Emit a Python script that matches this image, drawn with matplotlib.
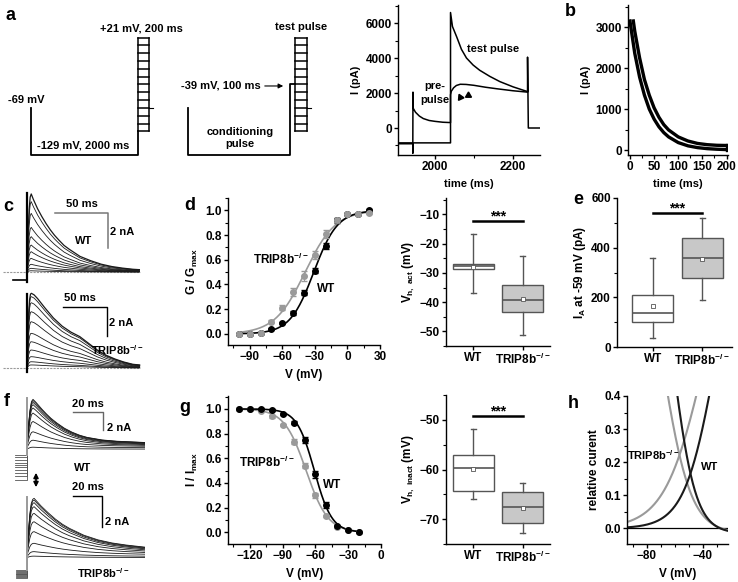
import numpy as np
import matplotlib
matplotlib.use("Agg")
import matplotlib.pyplot as plt
from matplotlib.ticker import MultipleLocator
from matplotlib.patches import FancyArrowPatch

# ======================================================
# DATA
# ======================================================
# --- a: protocol levels (mV) ---
hold_mv, hyp_mv, precond_mv = -69, -129, -39
step_levels = np.arange(-99, 22, 10)

# --- a: example current traces (ms, pA) ---
a_t_pre = [1905, 1943, 1943, 1943.5, 1944, 1950, 1960, 1970, 1985, 2000, 2020, 2040,
           2040, 2045, 2056, 2068, 2081, 2098, 2115, 2141, 2167, 2201, 2238, 2238, 2240, 2270]
a_i_pre = [-900, -900, -1450, 2050, 1130, 900, 680, 540, 430, 380, 330, 310,
           6600, 5800, 5200, 4500, 4000, 3600, 3300, 2950, 2650, 2350, 2080, 4050, 0, 0]
a_t_nopre = [1905, 2040, 2040, 2042, 2048, 2055, 2065, 2080, 2100, 2130, 2160, 2200, 2238]
a_i_nopre = [-850, -850, 1900, 2100, 2300, 2430, 2500, 2490, 2440, 2330, 2240, 2130, 2050]

# --- b: decay curves (ms, pA) ---
b_t1 = [0, 10, 20, 30, 40, 50, 60, 70, 80, 100, 120, 140, 160, 180, 200]
b_i1 = [3150, 2360, 1780, 1340, 1000, 755, 567, 426, 320, 181, 102, 58, 33, 19, 10]
b_t2 = [7, 10, 20, 30, 40, 50, 60, 70, 80, 100, 120, 140, 160, 180, 200]
b_i2 = [3150, 2900, 2250, 1720, 1340, 1030, 800, 620, 490, 320, 220, 160, 130, 115, 110]

# --- c: activation traces (ms, nA) ---
c_wt_t = [0, 1, 2, 3, 4, 6, 8, 10, 14, 18, 22, 26, 30, 35, 40, 50, 60, 70, 80, 90, 100, 106]
c_wt_shape = [0, 0.45, 0.8, 0.96, 1.0, 0.93, 0.87, 0.81, 0.71, 0.62, 0.54, 0.47, 0.41,
              0.34, 0.29, 0.2, 0.145, 0.1, 0.07, 0.05, 0.035, 0.03]
c_wt_peaks = [4.46, 4.02, 3.35, 2.55, 2.02, 1.54, 1.16, 0.78, 0.44, 0.21, 0.07]
c_tr_t = [0, 1, 2, 3, 4, 5, 8, 12, 16, 20, 25, 30, 40, 50, 60, 70, 80, 90, 100, 110, 120, 128]
c_tr_shape = [0, 0.4, 0.75, 0.92, 0.99, 1.0, 0.98, 0.93, 0.87, 0.81, 0.74, 0.67, 0.56,
              0.48, 0.42, 0.33, 0.24, 0.17, 0.12, 0.08, 0.05, 0.04]
c_tr_peaks = [5.15, 4.92, 4.5, 3.88, 3.19, 2.39, 1.81, 1.24, 0.78, 0.43, 0.21]

# --- d: activation G/Gmax ---
d_v = [-100, -90, -80, -70, -60, -50, -40, -30, -20, -10, 0, 10, 20]
d_wt = [0.0, 0.0, 0.005, 0.04, 0.09, 0.17, 0.335, 0.51, 0.71, 0.92, 0.97, 0.97, 1.0]
d_wt_err = [0.005, 0.005, 0.005, 0.01, 0.01, 0.015, 0.02, 0.02, 0.025, 0.02, 0.01, 0.01, 0.01]
d_tr = [0.0, 0.0, 0.005, 0.1, 0.21, 0.34, 0.47, 0.64, 0.81, 0.92, 0.97, 0.97, 0.98]
d_tr_err = [0.005, 0.005, 0.005, 0.01, 0.02, 0.03, 0.04, 0.035, 0.03, 0.02, 0.01, 0.01, 0.01]
act_wt_v50, act_wt_k = -31.0, 11.0
act_tr_v50, act_tr_k = -39.0, 14.0

# --- d / e / g: box statistics [min, q1, median, q3, max], means ---
vact_wt, vact_wt_mean = [-36.9, -28.7, -27.7, -26.9, -16.8], -27.9
vact_tr, vact_tr_mean = [-51.4, -43.3, -39.4, -34.2, -24.1], -38.8
ia_wt, ia_wt_mean = [36, 102, 138, 209, 360], 166
ia_tr, ia_tr_mean = [189, 276, 358, 438, 518], 356
vin_wt, vin_wt_mean = [-66.0, -64.3, -59.7, -57.0, -51.9], -59.9
vin_tr, vin_tr_mean = [-72.8, -70.7, -67.5, -64.5, -62.8], -67.7
groups = ["WT", "TRIP8b$^{-/-}$"]

# --- f: inactivation traces (ms, nA) ---
f_wt_t = [0, 1, 2, 3, 4, 6, 8, 10, 13, 16, 20, 25, 30, 35, 40, 50, 60, 70, 79]
f_wt_shape = [0, 0.4, 0.75, 0.95, 1.0, 0.93, 0.85, 0.77, 0.66, 0.56, 0.45, 0.33, 0.24,
              0.17, 0.12, 0.06, 0.03, 0.015, 0]
f_wt_peaks = [5.42, 5.3, 5.1, 4.85, 4.5, 3.95, 3.05, 1.95, 1.05, 0.3]
f_wt_sus = [0.8, 0.78, 0.75, 0.7, 0.65, 0.58, 0.5, 0.4, 0.25, 0.1]
f_wt_pre = [-3.2, -2.8, -2.5, -2.15, -1.85, -1.6, -1.35, -1.1, -0.8, -0.5]
f_tr_t = [0, 1, 2, 3, 4, 5, 7, 10, 15, 20, 25, 30, 40, 50, 60, 70, 83]
f_tr_shape = [0, 0.35, 0.7, 0.9, 0.98, 1.0, 0.94, 0.85, 0.72, 0.6, 0.5, 0.42, 0.29,
              0.2, 0.14, 0.1, 0.06]
f_tr_peaks = [3.85, 3.74, 3.57, 3.31, 2.88, 2.34, 1.7, 0.95, 0.41, 0.12]
f_tr_sus = [0.5, 0.48, 0.45, 0.42, 0.38, 0.33, 0.27, 0.2, 0.1, 0.03]
f_tr_pre = [-1.3, -1.24, -1.18, -1.12, -1.06, -1.0, -0.94, -0.88, -0.82, -0.77]

# --- g: inactivation I/Imax ---
g_v = [-130, -120, -110, -100, -90, -80, -70, -60, -50, -40, -30, -20]
g_wt = [1.0, 1.0, 1.0, 0.99, 0.957, 0.89, 0.75, 0.47, 0.22, 0.05, 0.02, 0.0]
g_wt_err = [0.005, 0.005, 0.005, 0.01, 0.01, 0.015, 0.025, 0.03, 0.025, 0.01, 0.005, 0.005]
g_tr = [1.0, 1.0, 0.985, 0.94, 0.87, 0.735, 0.54, 0.30, 0.13, 0.045, 0.02, 0.0]
g_tr_err = [0.005, 0.005, 0.005, 0.01, 0.01, 0.02, 0.02, 0.02, 0.01, 0.01, 0.005, 0.005]
inact_wt_v50, inact_wt_k = -61.0, 8.0
inact_tr_v50, inact_tr_k = -68.5, 10.0
inact_bottom = -0.015

GRAY = "#9a9a9a"
EDGE = "#555555"

# ======================================================
# STYLE
# ======================================================
plt.rcParams.update({
    "font.family": ["Liberation Sans", "DejaVu Sans"],
    "font.weight": "bold",
    "axes.labelweight": "bold",
    "font.size": 8,
    "mathtext.fontset": "custom",
    "mathtext.rm": "Liberation Sans:bold",
    "mathtext.it": "Liberation Sans:bold",
    "mathtext.bf": "Liberation Sans:bold",
    "mathtext.default": "rm",
    "axes.linewidth": 1.0,
})

W, H = 738, 582
fig = plt.figure(figsize=(W / 100, H / 100), dpi=100)


def px_ax(x0, y0, x1, y1):
    return fig.add_axes([x0 / W, 1 - y1 / H, (x1 - x0) / W, (y1 - y0) / H])


def fxy(x, y):
    return x / W, 1 - y / H


def origin_style(ax):
    ax.spines["top"].set_visible(False)
    ax.spines["right"].set_visible(False)
    ax.tick_params(which="major", direction="out", length=3, width=1, labelsize=8.5, pad=1.5)
    ax.tick_params(which="minor", direction="out", length=2, width=0.8)


def trace_ax(x0, y0, x1, y1, x_t0, y_zero, px_ms, px_na):
    ax = px_ax(x0, y0, x1, y1)
    ax.set_xlim((x0 - x_t0) / px_ms, (x1 - x_t0) / px_ms)
    ax.set_ylim((y_zero - y1) / px_na, (y_zero - y0) / px_na)
    ax.axis("off")
    return ax


def boltz_act(v, v50, k):
    return 1 / (1 + np.exp((v50 - v) / k))


def boltz_inact(v, v50, k, bottom=0.0):
    return bottom + (1 - bottom) / (1 + np.exp((v - v50) / k))


# ======================================================
# a: PROTOCOL SCHEMATICS
# ======================================================
ax = px_ax(0, 0, 335, 170)
ax.set_xlim(0, 335)
ax.set_ylim(-148.2, 68.9)
ax.axis("off")
for x_start, x_step, x_lad in [(31, 138, 138), (188, 290, 295)]:
    if x_start == 31:
        ax.plot([x_start, x_start, x_step, x_step], [hold_mv, hyp_mv, hyp_mv, step_levels[0]],
                color="black", lw=1.3)
    else:
        ax.plot([x_start, x_start, x_step, x_step, x_lad], [hold_mv, hyp_mv, hyp_mv, precond_mv, precond_mv],
                color="black", lw=1.3)
    w = 11 if x_start == 31 else 12
    for lv in step_levels:
        ax.plot([x_lad, x_lad + w], [lv, lv], color="black", lw=1.1)
    ax.plot([x_lad, x_lad], [step_levels[0], step_levels[-1]], color="black", lw=1.1)
    ax.plot([x_lad + w, x_lad + w], [step_levels[0], step_levels[-1]], color="black", lw=1.1)
    ax.plot([x_lad + w, x_lad + w + 4], [hold_mv, hold_mv], color="black", lw=0.8)

ax.text(141, 32, "+21 mV, 200 ms", ha="center", va="center", fontsize=8)
ax.text(8, -58.8, "-69 mV", ha="left", va="center", fontsize=8)
ax.text(83, -117.5, "-129 mV, 2000 ms", ha="center", va="center", fontsize=8)
ax.text(221, -40.9, "-39 mV, 100 ms", ha="center", va="center", fontsize=8)
ax.annotate("", xy=(286, -40.9), xytext=(262, -40.9),
            arrowprops=dict(arrowstyle="-|>", color="black", lw=0.8, mutation_scale=7))
ax.text(240, -107.3, "conditioning\npulse", ha="center", va="center", fontsize=8, linespacing=1.3)
ax.text(301, 34.4, "test pulse", ha="center", va="center", fontsize=8)

# ======================================================
# a: EXAMPLE TRACES
# ======================================================
ax = px_ax(398, 5, 540, 155)
origin_style(ax)
ax.plot(a_t_pre, a_i_pre, color="black", lw=1.1)
ax.plot(a_t_nopre, a_i_nopre, color="black", lw=1.1)
ax.plot([2064], [1780], marker=(3, 0, 25), color="black", markersize=5)
ax.plot([2085], [1880], marker=(3, 0, 0), color="black", markersize=5)
ax.text(2000, 2000, "pre-\npulse", ha="center", va="center", fontsize=8, linespacing=1.4)
ax.text(2150, 4500, "test pulse", ha="center", va="center", fontsize=8)
ax.set_xlim(1905, 2270)
ax.set_ylim(-1543, 7030)
ax.set_xticks([2000, 2200])
ax.xaxis.set_minor_locator(MultipleLocator(100))
ax.set_yticks([0, 2000, 4000, 6000])
ax.yaxis.set_minor_locator(MultipleLocator(1000))
ax.set_xlabel("time (ms)", fontsize=8, labelpad=4)
ax.set_ylabel("I (pA)", fontsize=8, labelpad=3)

# ======================================================
# b: DECAY
# ======================================================
ax = px_ax(628, 5, 728, 155)
origin_style(ax)
ax.plot(b_t1, b_i1, color="black", lw=2.4)
ax.plot(b_t2, b_i2, color="black", lw=2.4)
ax.plot([b_t1[-1], b_t2[-1]], [b_i1[-1], b_i2[-1]], color="black", lw=2.4)
ax.set_xlim(-4, 203)
ax.set_ylim(-122, 3540)
ax.set_xticks([0, 50, 100, 150, 200])
ax.xaxis.set_minor_locator(MultipleLocator(25))
ax.set_yticks([0, 1000, 2000, 3000])
ax.yaxis.set_minor_locator(MultipleLocator(500))
ax.set_xlabel("time (ms)", fontsize=8, labelpad=4)
ax.set_ylabel("I (pA)", fontsize=8, labelpad=3)

# ======================================================
# c: ACTIVATION TRACES
# ======================================================
ax = trace_ax(0, 188, 145, 284, 27, 272, 1.06, 17.5)
ax.plot([-22.6, 106.6], [0, 0], color=GRAY, lw=0.8, ls=(0, (2, 1)))
for i, pk in enumerate(c_wt_peaks):
    ax.plot(c_wt_t, pk * np.array(c_wt_shape), color="#1a1a1a", lw=0.9 if i == 0 else 0.6)
ax.plot([0, 0], [-0.55, 4.5], color="black", lw=1.6)
ax.plot([-13, 0], [-0.45, -0.45], color="black", lw=1.2)
ax.plot([26.4, 76.4, 76.4], [3.39, 3.39, 1.39], color="#777777", lw=1.1)
ax.text(51.4, 3.6, "50 ms", ha="center", va="bottom", fontsize=8)
ax.text(78.5, 2.3, "2 nA", ha="left", va="center", fontsize=8)
ax.text(53, 1.75, "WT", ha="center", va="center", fontsize=8)

ax = trace_ax(0, 286, 145, 376, 27, 368, 0.88, 14.5)
ax.plot([-27, 128], [0, 0], color=GRAY, lw=0.8, ls=(0, (2, 1)))
for i, pk in enumerate(c_tr_peaks):
    ax.plot(c_tr_t, pk * np.array(c_tr_shape), color="#1a1a1a", lw=0.9 if i == 0 else 0.6)
ax.plot([0, 0], [-0.3, 5.1], color="black", lw=1.6)
ax.plot([41.3, 91.3, 91.3], [4.23, 4.23, 2.23], color="black", lw=1.0)
ax.text(60, 4.45, "50 ms", ha="center", va="bottom", fontsize=8)
ax.text(93.5, 3.1, "2 nA", ha="left", va="center", fontsize=8)
ax.text(103, 1.25, "TRIP8b$^{-/-}$", ha="center", va="center", fontsize=8)

# ======================================================
# d: ACTIVATION CURVES
# ======================================================
ax = px_ax(228, 198, 380, 345)
origin_style(ax)
vv = np.linspace(-100, 20, 200)
ax.plot(vv, boltz_act(vv, act_tr_v50, act_tr_k), color=GRAY, lw=1.2)
ax.plot(vv, boltz_act(vv, act_wt_v50, act_wt_k), color="black", lw=1.2)
ax.errorbar(d_v, d_wt, yerr=d_wt_err, fmt="o", color="black", ms=4, capsize=2, elinewidth=0.8)
ax.errorbar(d_v, d_tr, yerr=d_tr_err, fmt="o", color=GRAY, ms=4, capsize=2, elinewidth=0.8)
ax.text(-61, 0.6, "TRIP8b$^{-/-}$", ha="center", va="center", fontsize=8.5)
ax.text(-20, 0.36, "WT", ha="center", va="center", fontsize=8.5)
ax.set_xlim(-110, 30)
ax.set_ylim(-0.09, 1.1)
ax.set_xticks([-90, -60, -30, 0, 30])
ax.xaxis.set_minor_locator(MultipleLocator(15))
ax.set_yticks([0.0, 0.2, 0.4, 0.6, 0.8, 1.0])
ax.yaxis.set_minor_locator(MultipleLocator(0.1))
ax.yaxis.set_major_formatter(lambda y, p: f"{y:.1f}")
ax.set_xlabel("V (mV)", fontsize=8.5, labelpad=4)
ax.set_ylabel("G / G$_{max}$", fontsize=8.5, labelpad=4)


# ======================================================
# BOX PLOTS
# ======================================================
def box_panel(ax, s_wt, m_wt, s_tr, m_tr, sig_y):
    origin_style(ax)
    stats = []
    for s, m in [(s_wt, m_wt), (s_tr, m_tr)]:
        stats.append(dict(whislo=s[0], q1=s[1], med=s[2], q3=s[3], whishi=s[4], mean=m, fliers=[]))
    bp = ax.bxp(stats, positions=[1, 2], widths=0.82, patch_artist=True, showmeans=True,
                showfliers=False, capwidths=0.1,
                boxprops=dict(edgecolor=EDGE, lw=1.0),
                whiskerprops=dict(color=EDGE, lw=1.0),
                capprops=dict(color=EDGE, lw=1.0),
                medianprops=dict(color=EDGE, lw=1.2),
                meanprops=dict(marker="s", markersize=2.5, markerfacecolor="white",
                               markeredgecolor=EDGE, markeredgewidth=0.6))
    bp["boxes"][0].set_facecolor("white")
    bp["boxes"][1].set_facecolor("#c8c8c8")
    ax.plot([1, 2], [sig_y, sig_y], color="black", lw=1.8)
    ax.annotate("***", xy=(1.5, sig_y), xytext=(0, -1.5), textcoords="offset points",
                ha="center", va="bottom", fontsize=10)
    ax.set_xticks([1, 2])
    ax.set_xticklabels(groups, fontsize=8.5)
    ax.tick_params(axis="x", which="minor", bottom=False)


ax = px_ax(446, 198, 550, 346)
box_panel(ax, vact_wt, vact_wt_mean, vact_tr, vact_tr_mean, -12.4)
ax.set_xlim(0.45, 2.55)
ax.set_ylim(-55, -4.4)
ax.set_yticks([-50, -40, -30, -20, -10])
ax.yaxis.set_minor_locator(MultipleLocator(5))
ax.set_ylabel("V$_{h,\\ act}$ (mV)", fontsize=8.5, labelpad=2)

ax = px_ax(617, 198, 732, 347)
box_panel(ax, ia_wt, ia_wt_mean, ia_tr, ia_tr_mean, 540)
ax.set_xlim(0.28, 2.6)
ax.set_ylim(0, 600)
ax.set_yticks([0, 200, 400, 600])
ax.yaxis.set_minor_locator(MultipleLocator(100))
ax.set_ylabel("I$_A$ at -59 mV (pA)", fontsize=8.5, labelpad=2)

ax = px_ax(446, 395, 550, 544)
box_panel(ax, vin_wt, vin_wt_mean, vin_tr, vin_tr_mean, -49.3)
ax.set_xlim(0.45, 2.55)
ax.set_ylim(-75, -45)
ax.set_yticks([-70, -60, -50])
ax.yaxis.set_minor_locator(MultipleLocator(5))
ax.set_ylabel("V$_{h,\\ inact}$ (mV)", fontsize=8.5, labelpad=2)

# ======================================================
# f: INACTIVATION TRACES
# ======================================================
ax = trace_ax(0, 390, 145, 485, 27, 450, 1.5, 9.35)
for pk, su, pr in zip(f_wt_peaks, f_wt_sus, f_wt_pre):
    y = su + (pk - su) * np.array(f_wt_shape)
    ax.plot(f_wt_t, y, color="#1a1a1a", lw=0.6)
    ax.plot([-8, 0, 0], [pr, pr, su], color="#555555", lw=0.6)
ax.plot([0, 0], [-0.53, 5.6], color=GRAY, lw=1.4)
ax.plot([30.9, 50.9, 50.9], [4.1, 4.1, 2.1], color="#666666", lw=1.0)
ax.text(40.9, 4.35, "20 ms", ha="center", va="bottom", fontsize=8)
ax.text(53.5, 2.3, "2 nA", ha="left", va="center", fontsize=8)

ax = trace_ax(0, 492, 145, 582, 27, 558, 1.42, 15.5)
for pk, su, pr in zip(f_tr_peaks, f_tr_sus, f_tr_pre):
    y = su + (pk - su) * np.array(f_tr_shape)
    ax.plot(f_tr_t, y, color="#1a1a1a", lw=0.6)
    ax.plot([-8, 0, 0], [pr, pr, su], color="#555555", lw=0.6)
ax.plot([0, 0], [-0.77, 3.95], color=GRAY, lw=1.4)
ax.plot([32.6, 52.6, 52.6], [4.02, 4.02, 2.02], color="black", lw=1.0)
ax.text(42.6, 4.25, "20 ms", ha="center", va="bottom", fontsize=8)
ax.text(55, 2.35, "2 nA", ha="left", va="center", fontsize=8)

fig.text(*fxy(83, 468), "WT", ha="center", va="center", fontsize=8)
fig.text(*fxy(103, 573), "TRIP8b$^{-/-}$", ha="center", va="center", fontsize=8)
fig.add_artist(FancyArrowPatch(posA=fxy(36, 470), posB=fxy(36, 490), transform=fig.transFigure,
                               arrowstyle="<|-|>", mutation_scale=7, lw=1.2, color="black"))

# ======================================================
# g: INACTIVATION CURVES
# ======================================================
ax = px_ax(228, 396, 381, 544)
origin_style(ax)
vv = np.linspace(-130, -20, 200)
ax.plot(vv, boltz_inact(vv, inact_tr_v50, inact_tr_k), color=GRAY, lw=1.2)
ax.plot(vv, boltz_inact(vv, inact_wt_v50, inact_wt_k), color="black", lw=1.2)
ax.errorbar(g_v, g_tr, yerr=g_tr_err, fmt="o", color=GRAY, ms=4, capsize=2, elinewidth=0.8)
ax.errorbar(g_v, g_wt, yerr=g_wt_err, fmt="o", color="black", ms=4, capsize=2, elinewidth=0.8)
ax.text(-104.6, 0.57, "TRIP8b$^{-/-}$", ha="center", va="center", fontsize=8.5)
ax.text(-45, 0.38, "WT", ha="center", va="center", fontsize=8.5)
ax.set_xlim(-140, 0)
ax.set_ylim(-0.095, 1.105)
ax.set_xticks([-120, -90, -60, -30, 0])
ax.xaxis.set_minor_locator(MultipleLocator(15))
ax.set_yticks([0.0, 0.2, 0.4, 0.6, 0.8, 1.0])
ax.yaxis.set_minor_locator(MultipleLocator(0.1))
ax.yaxis.set_major_formatter(lambda y, p: f"{y:.1f}")
ax.set_xlabel("V (mV)", fontsize=8.5, labelpad=4)
ax.set_ylabel("I / I$_{max}$", fontsize=8.5, labelpad=4)

# ======================================================
# h: WINDOW CURRENT
# ======================================================
ax = px_ax(627, 396, 728, 544)
origin_style(ax)
vv = np.linspace(-94, -22, 300)
ax.axhline(0, color="black", lw=0.9)
ax.plot(vv, boltz_act(vv, act_tr_v50, act_tr_k), color=GRAY, lw=1.5)
ax.plot(vv, boltz_inact(vv, inact_tr_v50, inact_tr_k, inact_bottom), color=GRAY, lw=1.5)
ax.plot(vv, boltz_act(vv, act_wt_v50, act_wt_k), color="#1a1a1a", lw=1.5)
ax.plot(vv, boltz_inact(vv, inact_wt_v50, inact_wt_k, inact_bottom), color="#1a1a1a", lw=1.5)
ax.text(-75.4, 0.222, "TRIP8b$^{-/-}$", ha="center", va="center", fontsize=8)
ax.text(-35, 0.186, "WT", ha="center", va="center", fontsize=8)
ax.set_xlim(-94, -22)
ax.set_ylim(-0.047, 0.4)
ax.set_xticks([-80, -40])
ax.xaxis.set_minor_locator(MultipleLocator(10))
ax.set_yticks([0.0, 0.1, 0.2, 0.3, 0.4])
ax.yaxis.set_minor_locator(MultipleLocator(0.05))
ax.yaxis.set_major_formatter(lambda y, p: f"{y:.1f}")
ax.set_xlabel("V (mV)", fontsize=8.5, labelpad=4)
ax.set_ylabel("relative curent", fontsize=8.5, labelpad=3)

# ======================================================
# PANEL LETTERS
# ======================================================
for letter, (x, y) in {"a": (10, 16), "b": (570, 12), "c": (8, 206), "d": (190, 205),
                       "e": (578, 200), "f": (7, 402), "g": (185, 407), "h": (573, 403)}.items():
    fig.text(*fxy(x, y), letter, ha="center", va="center", fontsize=13, fontweight="bold")

fig.savefig("out.png", dpi=100)
